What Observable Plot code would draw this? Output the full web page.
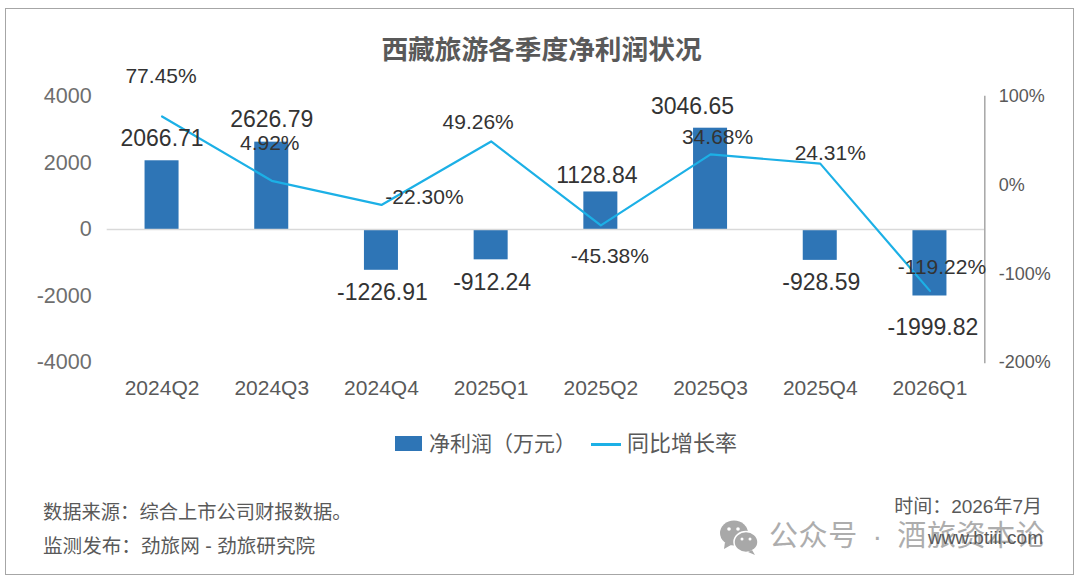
<!DOCTYPE html>
<html>
<head>
<meta charset="utf-8">
<script src="https://cdn.jsdelivr.net/npm/d3@7"></script>
<script src="https://cdn.jsdelivr.net/npm/@observablehq/plot@0.6"></script>
<style>
html,body{margin:0;padding:0;background:#fff;}
#page{position:relative;width:1080px;height:581px;overflow:hidden;font-family:"Liberation Sans","Noto Sans CJK SC",sans-serif;color:#595959;}
#box{position:absolute;left:5px;top:8px;width:1069px;height:567px;border:1.5px solid #a6a6a6;box-sizing:border-box;}
#title{position:absolute;left:0;width:1083px;top:32px;text-align:center;font-size:26.7px;line-height:36px;font-weight:700;color:#595959;}
#chart{position:absolute;left:0;top:60px;}
.t{position:absolute;white-space:nowrap;line-height:1;}
#sw{position:absolute;left:395px;top:436px;width:27px;height:15px;background:#2e75b6;}
#ln{position:absolute;left:591px;top:443px;width:30px;height:2.5px;background:#1cb0e6;}
svg text{font-family:"Liberation Sans","Noto Sans CJK SC",sans-serif;}
</style>
</head>
<body>
<div id="page">
  <div id="box"></div>
  <div id="title">西藏旅游各季度净利润状况</div>
  <div id="chart"></div>
  <div id="sw"></div><div class="t" style="left:429px;top:433px;font-size:21px">净利润（万元）</div>
  <div id="ln"></div><div class="t" style="left:627px;top:433px;font-size:22px">同比增长率</div>
  <div class="t" style="left:43px;top:503px;font-size:19.3px">数据来源：综合上市公司财报数据。</div>
  <div class="t" style="left:43px;top:537px;font-size:19.6px">监测发布：劲旅网 - 劲旅研究院</div>
  <svg style="position:absolute;left:719px;top:518px" width="42" height="38" viewBox="0 0 42 38">
    <ellipse cx="15" cy="15" rx="14" ry="12.5" fill="#a8a8a8"/>
    <path d="M6 24l-1 7 7-4z" fill="#a8a8a8"/>
    <ellipse cx="27" cy="24" rx="12" ry="10.5" fill="#a8a8a8" stroke="#fff" stroke-width="1.5"/>
    <path d="M33 32l3 5-7-3z" fill="#a8a8a8"/>
    <circle cx="10" cy="11" r="1.8" fill="#fff"/><circle cx="19" cy="11" r="1.8" fill="#fff"/>
    <circle cx="23" cy="21" r="1.5" fill="#fff"/><circle cx="31" cy="21" r="1.5" fill="#fff"/>
  </svg>
  <div class="t" style="left:769px;top:522px;font-size:29px;color:#adadad;letter-spacing:.6px;word-spacing:6px">公众号 · 酒旅资本论</div>
  <div class="t" style="right:38px;top:497px;font-size:19px">时间：2026年7月</div>
  <div class="t" style="right:37px;top:528px;font-size:19px;color:#595959">www.btiii.com</div>
</div>
<script>
const quarters = ["2024Q2","2024Q3","2024Q4","2025Q1","2025Q2","2025Q3","2025Q4","2026Q1"];
const netProfit = [2066.71,2626.79,-1226.91,-912.24,1128.84,3046.65,-928.59,-1999.82];
const yoyGrowth = [77.45,4.92,-22.30,49.26,-45.38,34.68,24.31,-119.22];
const leftTicks = [4000,2000,0,-2000,-4000];
const rightTicks = [100,0,-100,-200];

// Label nudges, kept apart from the data (pixels).
const profitNudge = [[0,-22],[0,-23],[1,22],[1,23],[-4,-16],[-18,-22],[1,22],[3,32]];
const growthNudge = [[-1,-40],[-2,-38],[43,-8],[-13,-19],[9,31],[7,-17],[10,-10],[12,-24]];

// Secondary axis: 100% lines up with 4000, -200% with -4000.
const toLeft = p => (p + 50) * 80 / 3;
const fromLeft = v => Math.round(v * 3 / 80 - 50);

const rows = quarters.map((q,i)=>({q,profit:netProfit[i],growth:yoyGrowth[i],g:toLeft(yoyGrowth[i])}));

const chart = Plot.plot({
  width:1080, height:350,
  marginTop:36, marginBottom:48, marginLeft:106.7, marginRight:95.7,
  style:{background:"transparent",overflow:"visible"},
  x:{domain:quarters,paddingInner:0.69,paddingOuter:0.345,align:0.5,round:false,label:null},
  y:{domain:[-4000,4000],label:null},
  marks:[
    Plot.barY(rows,{x:"q",y:"profit",fill:"#2e75b6"}),
    Plot.ruleY([0],{stroke:"#d9d9d9",strokeWidth:1.5}),
    Plot.frame({anchor:"right",stroke:"#a6a6a6",strokeWidth:1.5}),
    Plot.axisY({anchor:"left",ticks:leftTicks,tickSize:0,tickPadding:15.5,tickFormat:d=>String(d),fontSize:21.5,color:"#6e6e6e",label:null}),
    Plot.axisY({anchor:"right",ticks:rightTicks.map(toLeft),tickSize:0,tickPadding:14,tickFormat:v=>fromLeft(v)+"%",fontSize:18,color:"#595959",label:null}),
    Plot.axisX({anchor:"bottom",tickSize:0,tickPadding:18,fontSize:21,color:"#595959",label:null}),
    Plot.line(rows,{x:"q",y:"g",stroke:"#1cb0e6",strokeWidth:2.2}),
    ...rows.map((d,i)=>Plot.text([d],{x:"q",y:"profit",text:r=>r.profit.toFixed(2),dx:profitNudge[i][0],dy:profitNudge[i][1],fontSize:23,fill:"#333333"})),
    ...rows.map((d,i)=>Plot.text([d],{x:"q",y:"g",text:r=>r.growth.toFixed(2)+"%",dx:growthNudge[i][0],dy:growthNudge[i][1],fontSize:21,fill:"#333333"}))
  ]
});
document.getElementById("chart").appendChild(chart);
</script>
</body>
</html>
